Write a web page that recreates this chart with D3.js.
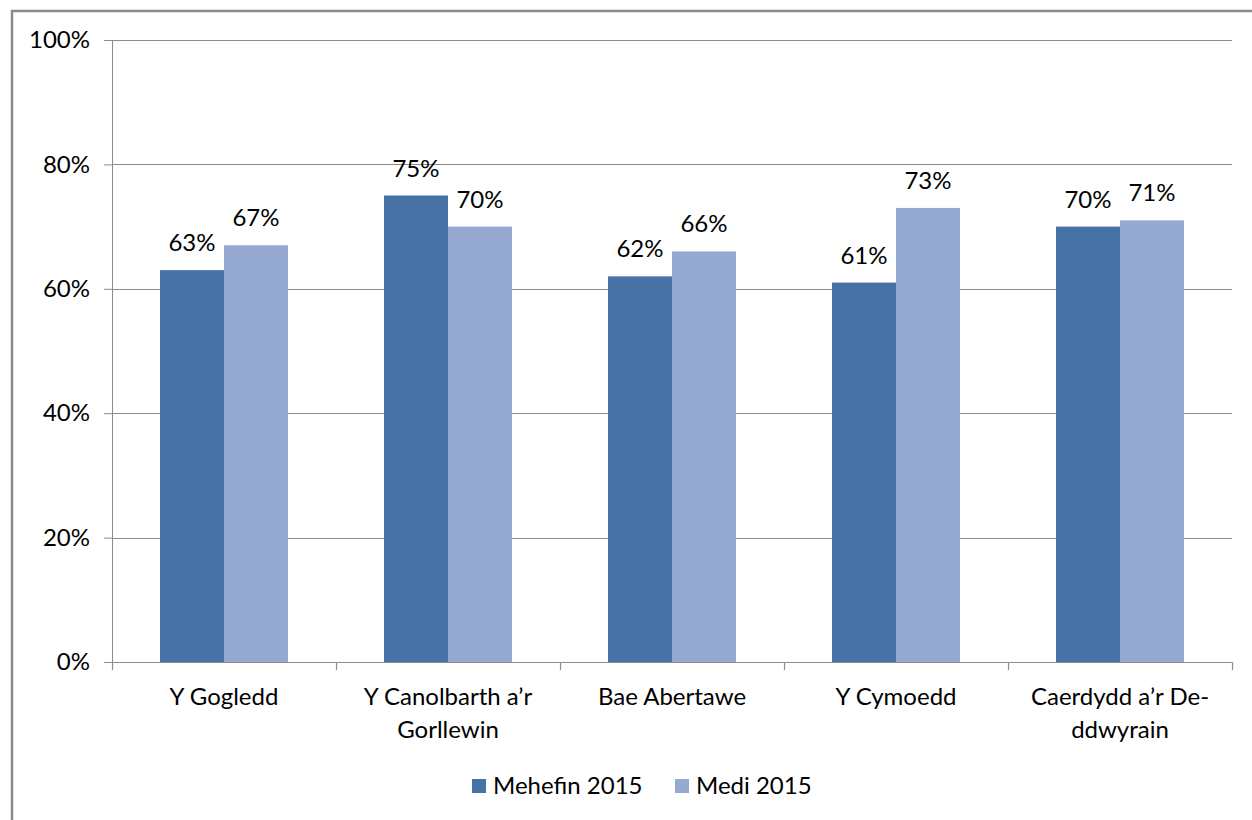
<!DOCTYPE html>
<html><head><meta charset="utf-8">
<script src="https://cdn.jsdelivr.net/npm/d3@7"></script>
<style>
html,body{margin:0;padding:0;background:#fff;}
svg{display:block;font-family:Lato,"Open Sans",sans-serif;}
</style></head><body>
<svg id="c" width="1252" height="820"></svg>
<script>
const categories = [["Y Gogledd"], ["Y Canolbarth a\u2019r", "Gorllewin"], ["Bae Abertawe"], ["Y Cymoedd"], ["Caerdydd a\u2019r De-", "ddwyrain"]];
const seriesNames = ["Mehefin 2015", "Medi 2015"];
const mehefin = [63, 75, 62, 61, 70];
const medi = [67, 70, 66, 73, 71];
const yTicks = [0, 20, 40, 60, 80, 100];
const colors = ["#4672a6", "#95a9d1"];

const svg = d3.select("#c");
const L = 112, R = 1232, T = 40, B = 662;
const fs = 24;

// frame
svg.append("path").attr("d", "M12,820 V11 H1252").attr("fill", "none").attr("stroke", "#8a8a8a").attr("stroke-width", 2.5);

const x0 = d3.scaleBand().domain(d3.range(categories.length)).range([L, R]).paddingInner(0).paddingOuter(0);
const x1 = d3.scaleBand().domain([0, 1]).range([48, x0.bandwidth() - 48]);
const y = d3.scaleLinear().domain([0, 100]).range([B, T]);

// gridlines + y axis
const yAxis = d3.axisLeft(y).tickValues(yTicks).tickFormat(d => d + "%").tickSize(8).tickPadding(14);
const gy = svg.append("g").attr("transform", `translate(${L},0)`).call(yAxis);
gy.select(".domain").attr("stroke", "#8c8c8c");
gy.selectAll(".tick line").attr("stroke", "#8c8c8c");
gy.selectAll(".tick text").attr("font-size", fs).attr("fill", "#000").attr("font-family", "Lato");
svg.append("g").selectAll("line").data(yTicks.filter(d => d > 0)).join("line")
  .attr("x1", L).attr("x2", R).attr("y1", d => Math.round(y(d)) + 0.5).attr("y2", d => Math.round(y(d)) + 0.5)
  .attr("stroke", "#8c8c8c").attr("stroke-width", 1.2);

// bars
const data = categories.map((c, i) => ({i, vals: [mehefin[i], medi[i]]}));
const grp = svg.append("g").selectAll("g").data(data).join("g").attr("transform", d => `translate(${x0(d.i)},0)`);
grp.selectAll("rect").data(d => d.vals.map((v, k) => ({v, k}))).join("rect")
  .attr("x", d => x1(d.k)).attr("width", x1.bandwidth())
  .attr("y", d => y(d.v)).attr("height", d => B - y(d.v)).attr("fill", d => colors[d.k]);
grp.selectAll("text").data(d => d.vals.map((v, k) => ({v, k}))).join("text")
  .attr("x", d => x1(d.k) + x1.bandwidth() / 2).attr("y", d => y(d.v) - 19)
  .attr("text-anchor", "middle").attr("font-size", fs).attr("fill", "#000").text(d => d.v + "%");

// x axis
const ticksX = d3.range(categories.length + 1).map(i => L + i * x0.bandwidth());
svg.append("line").attr("x1", L).attr("x2", R).attr("y1", B + 0.5).attr("y2", B + 0.5).attr("stroke", "#8c8c8c").attr("stroke-width", 1.2);
svg.append("g").selectAll("line").data(ticksX).join("line")
  .attr("x1", d => Math.round(d) + 0.5).attr("x2", d => Math.round(d) + 0.5).attr("y1", B).attr("y2", B + 8)
  .attr("stroke", "#8c8c8c").attr("stroke-width", 1.2);
const cl = svg.append("g").selectAll("text").data(categories).join("text")
  .attr("x", (d, i) => x0(i) + x0.bandwidth() / 2).attr("y", 705)
  .attr("text-anchor", "middle").attr("font-size", fs).attr("fill", "#000");
cl.selectAll("tspan").data(d => d).join("tspan")
  .attr("x", function() { return this.parentNode.getAttribute("x"); })
  .attr("dy", (d, j) => j === 0 ? 0 : 33).text(d => d);

// legend
const legX = [472, 675];
const lg = svg.append("g").selectAll("g").data(seriesNames).join("g").attr("transform", (d, i) => `translate(${legX[i]},779)`);
lg.append("rect").attr("width", 14).attr("height", 14).attr("fill", (d, i) => colors[i]);
lg.append("text").attr("x", 21).attr("y", 15).attr("font-size", fs).attr("fill", "#000").text(d => d);
</script></body></html>
